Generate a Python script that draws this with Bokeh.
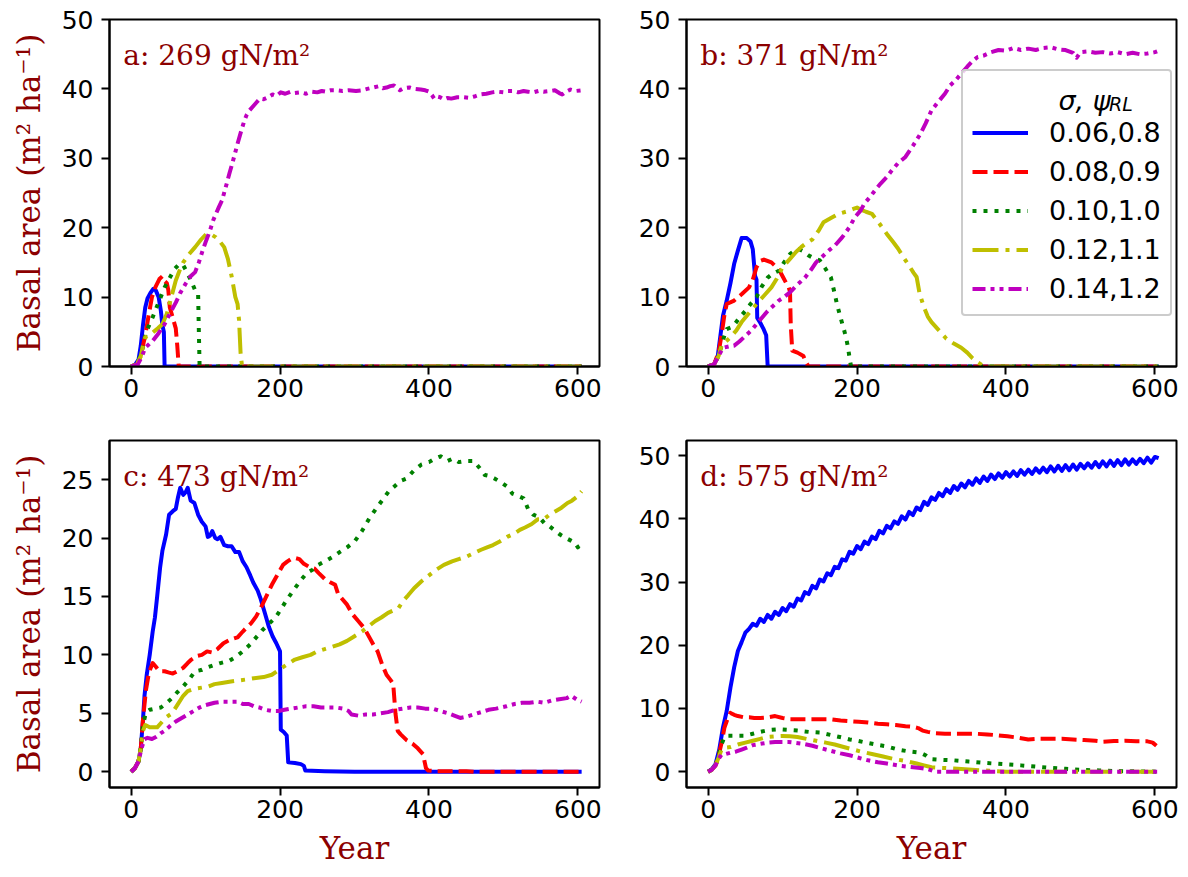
from bokeh.plotting import figure
from bokeh.models import Legend, LegendItem, Label, FixedTicker, Range1d
from bokeh.layouts import column, row
from bokeh.embed import file_html
from bokeh.resources import INLINE
from bokeh.core.properties import value

# ---------------- data (year, basal area) ----------------
SERIES_LABELS = ["0.06,0.8", "0.08,0.9", "0.10,1.0", "0.12,1.1", "0.14,1.2"]
PANEL_TITLES = ["a: 269 gN/m²", "b: 371 gN/m²", "c: 473 gN/m²", "d: 575 gN/m²"]
YEAR_TICKS = [0, 200, 400, 600]
BA_TICKS_50 = [0, 10, 20, 30, 40, 50]
BA_TICKS_25 = [0, 5, 10, 15, 20, 25]

A_BLUE = [(0,0),(5,0.2),(10,1),(13,3),(16,6),(19,8.5),(22,9.8),(26,10.6),(30,11.2),(33,11),(37,10),(40,8),(42,6),(44,5),(45,0),(605,0)]
A_RED = [(0,0),(8,0.3),(13,1.5),(16,3),(19,4.5),(23,7),(28,10),(33,11.5),(38,12.6),(42,13),(45,12.3),(48,12),(50,11),(52,8.5),(56,7),(60,5.5),(62,3),(64,0),(605,0)]
A_GREEN = [(0,0),(8,0.3),(14,2),(18,4),(22,5.4),(29,7.1),(36,9),(45,11.4),(52,12.8),(58,14),(65,14.8),(70,14.6),(74,13.8),(80,12.5),(86,11),(90,10.5),(91,5),(92,0),(605,0)]
A_YELLOW = [(0,0),(8,0.3),(13,1.5),(17,3.5),(19,4.2),(24,4.5),(29,4.9),(36,5.5),(42,6.1),(48,7.6),(55,10.4),(60,12.4),(65,13.8),(70,15),(78,16.2),(86,17.2),(94,18.3),(101,19.1),(108,19),(114,18.6),(120,17.9),(125,17.2),(130,15.5),(135,13),(140,10),(143,9),(145,6.6),(147,2),(149,0),(605,0)]
A_MAGENTA = [(0,0),(9,0.3),(14,1.3),(19,2.7),(24,3.2),(29,3.7),(37,4.8),(45,6.1),(52,7.6),(60,9.2),(66,10.6),(73,11.9),(80,13),(86,13.6),(91,15),(96,16.7),(101,18.2),(106,19.6),(110,21),(114,22),(118,23),(122,23.9),(127,25.8),(132,27.8),(136,29.3),(140,30.9),(144,32.5),(148,34),(152,35.4),(155,36.2),(159,36.9),(163,37.4),(168,38),(173,38.6),(178,38.5),(184,38.8),(190,39.2),(195,39),(201,39.5),(207,39.3),(214,39.6),(220,39.4),(228,39.5),(235,39.3),(242,39.6),(250,39.5),(256,39.7),(261,39.6),(268,39.8),(276,39.8),(284,39.7),(292,39.8),(302,39.7),(310,39.8),(317,40),(325,40.2),(333,40.4),(338,40.1),(343,40.2),(348,40.4),(353,40.5),(357,40.1),(361,39.8),(366,40.1),(374,40.2),(380,40),(389,39.9),(395,39.8),(400,39.6),(404,39.1),(407,38.6),(411,38.9),(415,38.8),(420,38.5),(425,38.7),(430,38.6),(438,38.8),(446,38.8),(454,38.7),(461,38.9),(469,39.2),(477,39.3),(485,39.5),(492,39.6),(500,39.5),(506,39.7),(513,39.7),(520,39.5),(527,39.7),(533,39.6),(540,39.5),(547,39.7),(554,39.6),(562,39.7),(569,39.8),(575,39.4),(579,39.2),(584,39.6),(590,39.9),(597,39.7),(605,39.8)]

B_BLUE = [(0,0),(8,0.3),(13,1.5),(16,4),(20,7.3),(25,9.5),(30,12),(35,14.8),(40,16.7),(45,18.5),(52,18.5),(57,18),(60,16.9),(63,13.1),(65,12.5),(66,7),(70,6.3),(74,5.5),(78,4.5),(80,0),(605,0)]
B_RED = [(0,0),(8,0.3),(14,2),(18,4.5),(22,7.5),(25,9),(35,9.5),(45,10.4),(55,11.4),(60,12.5),(65,14.3),(70,15.2),(75,15.4),(85,15),(95,14),(100,13),(105,12),(108,11.5),(110,10.8),(111,6),(113,2.3),(120,2),(128,1.5),(132,0.5),(135,0),(605,0)]
B_GREEN = [(0,0),(8,0.3),(14,1.5),(18,3),(22,4.5),(25,5.4),(30,5.6),(35,6),(42,7),(50,8),(57,9),(65,10),(72,11.5),(80,12.8),(87,13.4),(95,13.8),(102,15),(110,16.2),(116,16.7),(122,16.9),(128,16.6),(135,16),(142,15.6),(150,15.3),(157,14.2),(165,12.8),(170,10.5),(173,9),(178,7),(183,5.1),(186,3.8),(188,2.7),(190,1.2),(192,0),(605,0)]
B_YELLOW = [(0,0),(8,0.3),(14,1.5),(18,3),(24,3.6),(30,4.2),(38,5.2),(45,6.4),(55,7.7),(65,9),(75,10.2),(85,11.4),(92,12.6),(100,14.3),(110,15.5),(118,16.5),(125,17.2),(132,17.8),(140,18.3),(148,19.5),(155,20.8),(165,21.4),(175,22),(185,22.3),(195,22.7),(200,22.9),(205,22.6),(212,22.3),(220,22),(230,20.6),(240,19.1),(248,18),(255,17),(262,15.8),(270,14.5),(276,13.5),(280,12.9),(284,10.5),(290,8.5),(295,7.2),(300,6.4),(310,5.2),(320,4),(330,3.3),(340,2.7),(348,2),(355,1.2),(362,0.6),(368,0.2),(372,0),(605,0)]
B_MAGENTA = [(0,0),(8,0.3),(14,1.5),(20,2.7),(28,2.9),(35,3),(42,3.6),(50,4.4),(58,5.2),(65,6.1),(72,7),(80,8),(88,8.8),(95,9.5),(102,10),(110,10.7),(120,11.8),(130,12.8),(138,13.9),(145,15),(155,16),(163,16.8),(170,17.4),(180,18.6),(190,20.1),(197,21.5),(205,22.5),(210,23.5),(218,24.5),(225,25.5),(232,26.4),(240,27.3),(247,28.3),(255,29.3),(265,30.2),(275,31.8),(285,33.5),(292,35),(300,36.9),(308,38),(318,39.3),(325,40.5),(332,41.2),(340,42.2),(348,43.2),(355,44),(362,44.6),(370,44.8),(380,45.3),(390,45.6),(400,45.5),(410,45.9),(420,45.6),(430,45.8),(440,45.6),(450,45.9),(460,46),(470,45.7),(480,45.6),(490,45.2),(495,44.5),(500,45.3),(510,45.4),(520,45.2),(530,45.3),(540,45.1),(550,45.3),(560,45),(570,45.2),(580,45),(590,45.1),(600,45.3),(605,45.5)]

C_BLUE = [(0,0),(5,0.3),(10,0.9),(13,2),(16,4.5),(18,6.5),(21,8.3),(25,10),(29,12),(32,13.2),(35,15),(39,17.5),(42,18.9),(47,20.3),(51,22),(56,22.3),(60,22.5),(63,23.5),(66,24.3),(70,23.7),(73,23.9),(76,24.3),(80,23.2),(85,23),(90,22),(95,21.4),(100,21),(103,20.1),(106,20.2),(109,20.6),(113,20),(116,19.9),(120,20.1),(125,19.4),(130,19.3),(135,19.3),(140,18.8),(145,18.8),(150,18),(155,17.5),(160,16.8),(164,16.2),(170,15.5),(174,14.8),(180,13.5),(185,12.4),(190,11.6),(195,11),(200,10.3),(201,3.6),(205,3.4),(209,3.1),(211,0.8),(220,0.75),(228,0.65),(232,0.5),(234,0.1),(260,0.05),(300,0),(605,0)]
C_RED = [(0,0),(5,0.3),(10,0.9),(13,2),(16,4.5),(20,7),(24,8.5),(29,9.3),(33,9),(38,8.6),(45,8.6),(50,8.5),(56,8.4),(62,8.6),(70,8.9),(76,9.3),(81,9.6),(88,9.9),(95,10),(102,10.3),(109,10.2),(116,10.5),(124,11),(133,11.3),(143,11.5),(150,12),(156,12.4),(161,12.7),(168,13.3),(174,14),(180,14.8),(189,16),(196,16.8),(204,17.7),(210,18),(215,18.2),(220,18.3),(226,18.2),(232,17.8),(240,17.5),(246,17.4),(252,17),(260,16.5),(268,16.2),(274,16),(278,15.2),(282,14.9),(290,14.3),(297,13.5),(305,12.9),(313,12.3),(320,11.5),(326,10.8),(331,10.3),(337,9.2),(343,8.3),(349,7.8),(352,7.5),(355,5),(358,3.5),(362,3.2),(370,2.7),(378,2.4),(385,2),(392,1.5),(396,0.3),(399,0.1),(410,0.05),(450,0.05),(460,0),(605,0)]
C_GREEN = [(0,0),(5,0.3),(10,0.9),(13,2),(16,4),(20,5.1),(25,5.3),(32,5.4),(40,5.5),(48,5.9),(55,6.3),(62,6.8),(70,7.3),(78,7.9),(86,8.6),(94,8.7),(101,8.9),(110,9.1),(120,9.3),(132,9.5),(140,9.8),(150,10.3),(160,10.9),(168,11.5),(176,12.1),(184,12.6),(194,13.2),(202,14),(210,14.8),(220,15.7),(228,16.4),(236,17),(244,17.3),(251,17.7),(260,18),(271,18.4),(280,18.8),(290,19.2),(300,19.7),(310,20.6),(320,21.7),(330,22.6),(338,23.3),(346,24),(355,24.5),(362,24.9),(370,25.1),(380,25.8),(390,26.3),(400,26.5),(408,26.8),(416,27),(425,26.6),(432,26.8),(440,26.5),(450,26.6),(460,26.6),(468,26),(475,25.4),(482,25.3),(488,25.1),(496,24.8),(505,24.4),(512,23.8),(520,23.6),(527,23.4),(533,22.5),(540,22),(548,21.8),(556,21.2),(562,21),(570,20.6),(576,20.3),(584,20),(590,19.8),(596,19.6),(600,19.2),(605,19.7)]
C_YELLOW = [(0,0),(5,0.3),(10,0.9),(13,2),(16,3.5),(19,4),(25,3.8),(30,3.8),(35,3.8),(42,4.3),(48,4.7),(55,5),(62,5.7),(70,6.5),(76,6.9),(85,7.1),(95,7.2),(104,7.3),(112,7.5),(122,7.6),(132,7.7),(143,7.8),(155,7.9),(165,8),(178,8.1),(189,8.3),(198,8.7),(210,9.2),(220,9.6),(230,9.8),(241,10),(250,10.3),(260,10.5),(270,10.7),(280,10.9),(290,11.2),(300,11.6),(310,12),(320,12.5),(328,12.9),(336,13.2),(345,13.6),(352,13.8),(359,14),(365,14.6),(372,15.1),(380,15.7),(390,16.3),(400,16.8),(410,17.3),(420,17.7),(431,18),(440,18.2),(450,18.4),(460,18.7),(470,19),(478,19.2),(486,19.4),(495,19.7),(505,20.1),(515,20.4),(522,20.7),(529,20.9),(538,21.2),(546,21.6),(554,21.6),(562,22),(570,22.3),(578,22.6),(586,23),(592,23.2),(598,23.5),(605,24)]
C_MAGENTA = [(0,0),(5,0.3),(10,0.9),(14,2),(18,2.8),(22,2.9),(28,2.8),(34,3),(40,3.3),(45,3.5),(52,3.9),(60,4.3),(68,4.6),(76,4.9),(84,5.2),(92,5.5),(100,5.7),(112,5.9),(122,6),(132,6),(143,6),(150,5.8),(158,5.8),(165,5.6),(172,5.5),(180,5.3),(189,5.2),(198,5.2),(206,5.3),(215,5.4),(225,5.5),(235,5.6),(245,5.6),(255,5.5),(265,5.5),(275,5.5),(285,5.4),(292,5.2),(296,4.9),(305,4.8),(315,4.9),(325,4.9),(335,5),(345,5.1),(355,5.3),(365,5.4),(375,5.5),(385,5.5),(395,5.4),(405,5.4),(415,5.2),(426,5),(434,4.8),(442,4.6),(450,4.7),(460,4.9),(470,5.1),(480,5.3),(490,5.4),(504,5.6),(515,5.8),(525,5.9),(535,5.9),(545,6),(555,5.9),(565,6.1),(575,6.2),(585,6.3),(591,6.5),(598,6.2),(605,6)]

D_BLUE = [(0,0),(5,0.4),(10,1.2),(15,3.5),(20,7),(25,9.6),(30,13.3),(35,16.5),(40,19.1),(45,20.5),(50,22),(55,22.6),
          (60,23.4),(65,23.1),(70,24.2),(75,23.7),(80,24.8),(85,24.2),(90,25.3),(95,24.8),(100,25.9),(105,25.4),
          (110,26.5),(115,26.1),(120,27.4),(125,27.1),(130,28.4),(135,28.1),(140,29.4),(145,29.0),(150,30.4),(155,30.1),
          (160,31.4),(165,31.1),(170,32.4),(175,32.2),(180,33.6),(185,33.4),(190,34.8),(195,34.5),(200,35.7),(205,35.2),
          (210,36.4),(215,36.0),(220,37.2),(225,36.8),(230,38.1),(235,37.7),(240,38.9),(245,38.5),(250,39.6),(255,39.2),
          (260,40.4),(265,39.9),(270,41.1),(275,40.6),(280,41.8),(285,41.4),(290,42.7),(295,42.2),(300,43.4),(305,43.0),
          (310,44.1),(315,43.6),(320,44.7),(325,44.1),(330,45.2),(335,44.6),(340,45.6),(345,45.0),(350,46.0),(355,45.4),
          (360,46.4),(365,45.7),(370,46.7),(375,46.0),(380,47.0),(385,46.3),(390,47.2),(395,46.5),(400,47.4),(405,46.7),
          (410,47.5),(415,46.8),(420,47.7),(425,47.0),(430,47.8),(435,47.1),(440,48.0),(445,47.3),(450,48.1),(455,47.4),
          (460,48.3),(465,47.5),(470,48.4),(475,47.6),(480,48.5),(485,47.7),(490,48.6),(495,47.8),(500,48.7),(505,48.0),
          (510,48.8),(515,48.1),(520,49.0),(525,48.2),(530,49.1),(535,48.3),(540,49.2),(545,48.4),(550,49.3),(555,48.5),
          (560,49.4),(565,48.6),(570,49.4),(575,48.7),(580,49.5),(585,48.8),(590,49.7),(595,48.9),(600,49.8),(605,49.6)]
D_RED = [(0,0),(5,0.3),(10,1),(14,2.5),(18,4.5),(22,7),(26,8.3),(30,9.3),(35,9),(40,8.8),(48,8.6),(55,8.6),(62,8.5),(70,8.5),(80,8.6),(90,8.8),(100,8.5),(110,8.3),(125,8.3),(140,8.3),(152,8.3),(165,8.3),(178,8.1),(190,8),(202,7.9),(215,7.8),(228,7.6),(240,7.5),(252,7.4),(265,7.2),(275,7.1),(282,6.9),(288,6.5),(295,6.3),(305,6.1),(318,6),(330,6),(345,6),(360,6),(375,5.9),(390,5.75),(402,5.6),(415,5.4),(430,5.1),(445,5.2),(460,5.2),(475,5.2),(490,5.1),(505,5),(520,4.9),(530,4.75),(545,4.85),(560,4.9),(575,4.8),(590,4.8),(597,4.6),(602,4.1)]
D_GREEN = [(0,0),(5,0.3),(10,1),(14,2.5),(18,4.3),(22,5.5),(26,5.7),(35,5.7),(50,5.7),(60,6),(70,6.3),(82,6.6),(95,6.7),(108,6.6),(120,6.5),(135,6.3),(150,6.2),(165,5.8),(180,5.4),(190,5.1),(200,4.9),(212,4.6),(225,4.3),(240,4),(255,3.5),(270,3.2),(285,3),(292,2.6),(298,2),(310,1.9),(330,1.8),(350,1.6),(370,1.4),(395,1.2),(420,1),(440,0.8),(460,0.6),(480,0.45),(500,0.3),(525,0.2),(550,0.1),(575,0.05),(605,0)]
D_YELLOW = [(0,0),(5,0.3),(10,1),(14,2.2),(18,3.5),(22,3.8),(30,3.9),(40,4.3),(50,4.6),(60,4.9),(70,5.2),(80,5.5),(90,5.6),(100,5.65),(110,5.6),(120,5.5),(132,5.2),(145,4.9),(158,4.6),(170,4.3),(182,3.9),(195,3.5),(208,3.1),(220,2.8),(235,2.4),(250,2),(265,1.7),(280,1.3),(290,1),(300,0.7),(315,0.6),(330,0.5),(350,0.35),(370,0.2),(385,0.1),(400,0),(605,0)]
D_MAGENTA = [(0,0),(5,0.3),(10,1),(14,2),(18,2.7),(24,2.8),(30,3),(38,3.2),(45,3.5),(52,3.8),(60,4.2),(70,4.4),(80,4.6),(90,4.7),(100,4.7),(108,4.7),(115,4.6),(128,4.4),(140,4.1),(152,3.7),(165,3.3),(178,2.9),(190,2.6),(202,2.2),(215,1.8),(228,1.5),(240,1.3),(250,1.1),(260,0.9),(272,0.75),(285,0.6),(295,0.4),(300,0.2),(305,0),(605,0)]

# ---------------- styles ----------------
COLORS = ["#0000ff", "#ff0000", "#008000", "#bfbf00", "#bf00bf"]
DASHES = ["solid", "15 6", "4 7", "26 7 4 7", "13 5 4 5 4 5"]
LW = 4
DARKRED = "#8b0000"
SERIF = "DejaVu Serif"
SANS = "DejaVu Sans"


def unzip(pairs):
    return [p[0] for p in pairs], [p[1] for p in pairs]


def make_panel(series, title, title_y, yr, yticks, width, height, ml, mr, mt, mb, ylabel, xlabel):
    p = figure(width=width, height=height, x_range=Range1d(-29, 629), y_range=Range1d(*yr),
               output_backend="svg", toolbar_location=None,
               min_border_left=ml, min_border_right=mr, min_border_top=mt, min_border_bottom=mb)
    p.xgrid.visible = False
    p.ygrid.visible = False
    p.outline_line_color = "black"
    p.outline_line_width = 2
    p.outline_line_alpha = 1
    p.background_fill_color = "white"
    p.border_fill_color = "white"
    p.xaxis.ticker = FixedTicker(ticks=YEAR_TICKS)
    p.yaxis.ticker = FixedTicker(ticks=yticks)
    for ax in (p.xaxis[0], p.yaxis[0]):
        ax.axis_line_width = 2
        ax.axis_line_color = "black"
        ax.major_tick_line_width = 2
        ax.major_tick_line_color = "black"
        ax.major_tick_out = 8
        ax.major_tick_in = 0
        ax.minor_tick_line_color = None
        ax.major_label_text_font = SANS
        ax.major_label_text_font_size = "25px"
        ax.major_label_text_color = "black"
    p.xaxis.major_label_standoff = 4
    p.yaxis.major_label_standoff = 8
    if ylabel:
        p.yaxis.axis_label = "Basal area (m² ha⁻¹)"
        p.yaxis.axis_label_text_font = SERIF
        p.yaxis.axis_label_text_font_size = "31px"
        p.yaxis.axis_label_text_font_style = "normal"
        p.yaxis.axis_label_text_color = DARKRED
        p.yaxis.axis_label_standoff = 12
    if xlabel:
        p.xaxis.axis_label = "Year"
        p.xaxis.axis_label_text_font = SERIF
        p.xaxis.axis_label_text_font_size = "31px"
        p.xaxis.axis_label_text_font_style = "normal"
        p.xaxis.axis_label_text_color = DARKRED
        p.xaxis.axis_label_standoff = 9
    rends = []
    for pairs, color, dash in zip(series, COLORS, DASHES):
        xs, ys = unzip(pairs)
        r = p.line(xs, ys, line_color=color, line_width=LW, line_dash=dash,
                   line_cap="butt", line_join="round")
        rends.append(r)
    p.add_layout(Label(x=-10.5, y=title_y, text=title, text_font=SERIF, text_font_size="28px",
                       text_color=DARKRED, text_align="left", text_baseline="alphabetic"))
    return p, rends


pa, ra = make_panel([A_BLUE, A_RED, A_GREEN, A_YELLOW, A_MAGENTA], PANEL_TITLES[0], 44.8,
                    (0, 50), BA_TICKS_50, 609, 411, 109, 10, 19, 45, True, False)
pb, rb = make_panel([B_BLUE, B_RED, B_GREEN, B_YELLOW, B_MAGENTA], PANEL_TITLES[1], 44.8,
                    (0, 50), BA_TICKS_50, 577, 411, 77, 10, 19, 45, False, False)
pc, rc = make_panel([C_BLUE, C_RED, C_GREEN, C_YELLOW, C_MAGENTA], PANEL_TITLES[2], 25.27,
                    (-1.35, 28.35), BA_TICKS_25, 609, 464, 109, 10, 29, 88, True, True)
pd_, rd = make_panel([D_BLUE, D_RED, D_GREEN, D_YELLOW, D_MAGENTA], PANEL_TITLES[3], 46.7,
                     (-2.5, 52.4), BA_TICKS_50, 577, 464, 77, 10, 29, 88, False, True)

# semi-opaque legend backdrop (drawn above the lines, below the legend contents)
pb.quad(left=[340.5], right=[620], top=[42.7], bottom=[7.45], fill_color="white",
        fill_alpha=0.8, line_color=None)

legend = Legend(items=[LegendItem(label=value(l), renderers=[r]) for l, r in zip(SERIES_LABELS, rb)],
                location=(275, 50), title=" ", title_text_font_size="27px", title_standoff=5,
                label_text_font=SANS, label_text_font_size="27px", label_text_color="black",
                label_standoff=21,
                glyph_width=56, glyph_height=33, label_height=33, spacing=6, padding=9, margin=0,
                border_line_color="#cccccc", border_line_width=2, border_line_alpha=1,
                background_fill_alpha=0.0)
if "border_radius" in Legend.properties():
    legend.border_radius = 4
pb.add_layout(legend)
pb.add_layout(Label(x=470.5, y=38.3, text="σ, ψ", text_font=SANS, text_font_size="27px",
                    text_font_style="italic", text_color="black", text_baseline="alphabetic"))
pb.add_layout(Label(x=538.5, y=37.8, text="RL", text_font=SANS, text_font_size="19px",
                    text_font_style="italic", text_color="black", text_baseline="alphabetic"))

layout = column(row(pa, pb, spacing=0), row(pc, pd_, spacing=0), spacing=0)

with open("out.html", "w") as f:
    f.write(file_html(layout, INLINE))
